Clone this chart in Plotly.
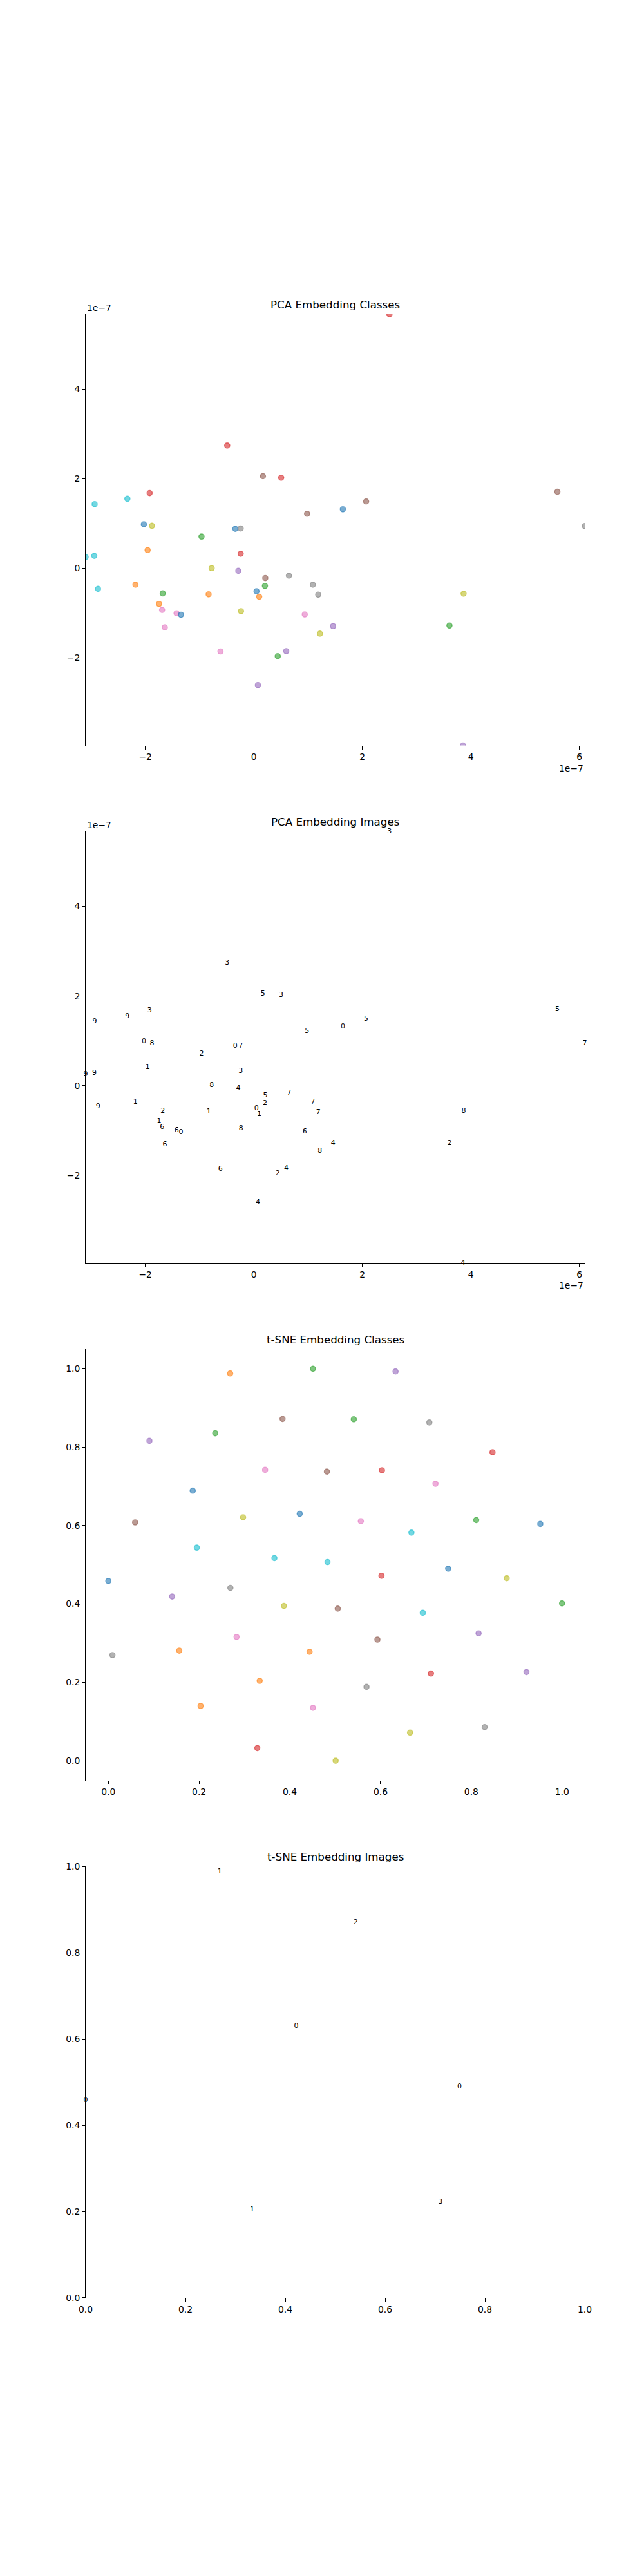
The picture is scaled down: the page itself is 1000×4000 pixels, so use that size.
import plotly.graph_objects as go

# ---------------- data ----------------
# PCA embedding, in units of 1e-7
pca_x = [2.50, -0.491, 0.168, 0.504, 5.595, -1.921, -2.331, 2.070, -2.934, 1.641,
         0.982, -2.027, -1.878, 6.10, -0.342, -0.242, -0.964, -1.958, -2.941, -3.10,
         -0.242, -0.777, -0.286, 0.211, 0.647, -2.872, -2.182, 0.205, 1.088, 0.050,
         -1.679, -0.833, 1.187, 3.867, 0.099, -1.747, -1.691, -0.236, -1.424, -1.343,
         0.939, 1.461, 3.606, -1.641, 1.219, -0.615, 0.597, 0.441, 0.075, 3.855]
pca_y = [5.67, 2.738, 2.054, 2.020, 1.705, 1.678, 1.550, 1.490, 1.430, 1.315,
         1.215, 0.980, 0.946, 0.940, 0.879, 0.886, 0.705, 0.403, 0.275, 0.248,
         0.322, 0.0, -0.060, -0.221, -0.168, -0.463, -0.369, -0.396, -0.369, -0.517,
         -0.564, -0.584, -0.591, -0.570, -0.638, -0.799, -0.933, -0.960, -1.007, -1.040,
         -1.034, -1.295, -1.282, -1.322, -1.463, -1.859, -1.852, -1.966, -2.611, -3.96]
pca_label = [3, 3, 5, 3, 5, 3, 9, 5, 9, 0,
             5, 0, 8, 7, 0, 7, 2, 1, 9, 9,
             3, 8, 4, 5, 7, 9, 1, 2, 7, 0,
             2, 1, 7, 8, 1, 1, 6, 8, 6, 0,
             6, 4, 2, 6, 8, 6, 4, 2, 4, 4]
pca_scale = 1e-7
pca_ticks = [-2, 0, 2, 4, 6]
pca_yticks = [-2, 0, 2, 4]

# t-SNE embedding (normalised)
tsne_x = [0.2685, 0.451, 0.633, 0.384, 0.541, 0.7075, 0.2356, 0.0905, 0.8467, 0.3455,
          0.4817, 0.603, 0.721, 0.186, 0.059, 0.297, 0.4218, 0.5565, 0.8108, 0.952,
          0.668, 0.195, 0.366, 0.483, 0.749, 0.602, 0.878, 0.0, 0.269, 0.1406,
          0.387, 0.5056, 1.0, 0.693, 0.816, 0.2827, 0.593, 0.1563, 0.4435, 0.009,
          0.711, 0.9215, 0.3336, 0.569, 0.2034, 0.451, 0.8295, 0.665, 0.3283, 0.501]
tsne_y = [0.988, 1.0, 0.993, 0.872, 0.871, 0.863, 0.8355, 0.816, 0.787, 0.742,
          0.7375, 0.741, 0.7066, 0.689, 0.608, 0.621, 0.630, 0.611, 0.614, 0.604,
          0.582, 0.5436, 0.517, 0.507, 0.490, 0.472, 0.4656, 0.4587, 0.441, 0.419,
          0.395, 0.388, 0.4015, 0.3776, 0.325, 0.3158, 0.309, 0.281, 0.278, 0.2695,
          0.2224, 0.2263, 0.2039, 0.1884, 0.1398, 0.1351, 0.0857, 0.0718, 0.0324, 0.0]
tsne_label = [1, 2, 4, 5, 2, 7, 2, 4, 3, 6,
              5, 3, 6, 0, 5, 8, 0, 6, 2, 0,
              9, 9, 9, 9, 0, 3, 8, 0, 7, 4,
              8, 5, 2, 9, 4, 6, 5, 1, 1, 7,
              3, 4, 1, 7, 1, 6, 7, 8, 3, 8]
# indices of the points whose digit thumbnails are shown in the t-SNE image panel
tsne_shown = [0, 4, 16, 24, 27, 42, 40]

titles = ["PCA Embedding Classes", "PCA Embedding Images",
          "t-SNE Embedding Classes", "t-SNE Embedding Images"]

# ---------------- style ----------------
tab10 = [(31, 119, 180), (255, 127, 14), (44, 160, 44), (214, 39, 40), (148, 103, 189),
         (140, 86, 75), (227, 119, 194), (127, 127, 127), (188, 189, 34), (23, 190, 207)]
alpha = 0.6
FONT = "DejaVu Sans"
TICK_SIZE = 13.9
TITLE_SIZE = 16.7

W, H = 1000, 4000
ML, MR, MT, MB = 125, 100, 480, 440
n = 4
hspace = 0.2
h = 1.0 / (n + hspace * (n - 1))
domains = []
for i in range(n):
    top = 1.0 - i * h * (1 + hspace)
    domains.append([max(0.0, round(top - h, 6)), min(1.0, round(top, 6))])


def rgba(c, a):
    return "rgba(%d,%d,%d,%s)" % (c[0], c[1], c[2], a)


fig = go.Figure()

pxv = [v * pca_scale for v in pca_x]
pyv = [v * pca_scale for v in pca_y]


def marker_cls(labels):
    return dict(size=8.3,
                color=[rgba(tab10[l], alpha) for l in labels],
                line=dict(width=1.4, color=[rgba(tab10[l], alpha) for l in labels]))


# panel 1: PCA classes
fig.add_trace(go.Scatter(x=pxv, y=pyv, mode="markers", marker=marker_cls(pca_label),
                         xaxis="x", yaxis="y", showlegend=False, cliponaxis=True,
                         hoverinfo="skip"))
# panel 2: PCA images (digit thumbnails rendered as digit text)
fig.add_trace(go.Scatter(x=pxv, y=pyv, mode="text", text=[str(l) for l in pca_label],
                         textfont=dict(family=FONT, size=11, color="black"),
                         xaxis="x2", yaxis="y2", showlegend=False, cliponaxis=False,
                         hoverinfo="skip"))
# panel 3: t-SNE classes
fig.add_trace(go.Scatter(x=tsne_x, y=tsne_y, mode="markers", marker=marker_cls(tsne_label),
                         xaxis="x3", yaxis="y3", showlegend=False, cliponaxis=True,
                         hoverinfo="skip"))
# panel 4: t-SNE images
fig.add_trace(go.Scatter(x=[tsne_x[i] for i in tsne_shown], y=[tsne_y[i] for i in tsne_shown],
                         mode="text", text=[str(tsne_label[i]) for i in tsne_shown],
                         textfont=dict(family=FONT, size=11, color="black"),
                         xaxis="x4", yaxis="y4", showlegend=False, cliponaxis=False,
                         hoverinfo="skip"))

pca_xr = [min(pxv), max(pxv)]
pca_yr = [min(pyv), max(pyv)]
pad = 0.05 * (max(tsne_x) - min(tsne_x))
tsne_xr = [min(tsne_x) - pad, max(tsne_x) + pad]
pad_y = 0.05 * (max(tsne_y) - min(tsne_y))
tsne_yr = [min(tsne_y) - pad_y, max(tsne_y) + pad_y]


def fmt(v):
    s = "%g" % v
    return s.replace("-", "\u2212")


base_axis = dict(showline=True, linecolor="black", linewidth=1.1, mirror=True,
                 ticks="outside", ticklen=4.9, tickwidth=1.1, tickcolor="black",
                 showgrid=False, zeroline=False,
                 tickfont=dict(family=FONT, size=TICK_SIZE, color="black"))

pca_xaxis = dict(base_axis, range=pca_xr, tickvals=[t * pca_scale for t in pca_ticks],
                 ticktext=[fmt(t) for t in pca_ticks])
pca_yaxis = dict(base_axis, range=pca_yr, tickvals=[t * pca_scale for t in pca_yticks],
                 ticktext=[fmt(t) for t in pca_yticks])
t01 = [0.0, 0.2, 0.4, 0.6, 0.8, 1.0]
tsne_xaxis = dict(base_axis, range=tsne_xr, tickvals=t01, ticktext=["%.1f" % t for t in t01])
tsne_yaxis = dict(base_axis, range=tsne_yr, tickvals=t01, ticktext=["%.1f" % t for t in t01])
img_xaxis = dict(base_axis, range=[0, 1], tickvals=t01, ticktext=["%.1f" % t for t in t01])
img_yaxis = dict(base_axis, range=[0, 1], tickvals=t01, ticktext=["%.1f" % t for t in t01])

axes_x = [pca_xaxis, pca_xaxis, tsne_xaxis, img_xaxis]
axes_y = [pca_yaxis, pca_yaxis, tsne_yaxis, img_yaxis]

layout = dict(width=W, height=H, margin=dict(l=ML, r=MR, t=MT, b=MB, autoexpand=False),
              paper_bgcolor="white", plot_bgcolor="white", showlegend=False,
              font=dict(family=FONT, color="black"))
annotations = []
for i in range(n):
    sx = "" if i == 0 else str(i + 1)
    layout["xaxis" + sx] = dict(axes_x[i], domain=[0, 1], anchor="y" + sx)
    layout["yaxis" + sx] = dict(axes_y[i], domain=domains[i], anchor="x" + sx)
    annotations.append(dict(text=titles[i], xref="paper", yref="paper", x=0.5,
                            y=domains[i][1], xanchor="center", yanchor="bottom",
                            yshift=3, showarrow=False,
                            font=dict(family=FONT, size=TITLE_SIZE, color="black")))
    if i < 2:
        annotations.append(dict(text="1e\u22127", xref="paper", yref="paper", x=0,
                                y=domains[i][1], xanchor="left", yanchor="bottom",
                                yshift=0, showarrow=False,
                                font=dict(family=FONT, size=TICK_SIZE, color="black")))
        annotations.append(dict(text="1e\u22127", xref="paper", yref="paper", x=1,
                                y=domains[i][0], xanchor="right", yanchor="top",
                                yshift=-25, showarrow=False,
                                font=dict(family=FONT, size=TICK_SIZE, color="black")))
layout["annotations"] = annotations
fig.update_layout(**layout)

fig.write_html("out.html")
